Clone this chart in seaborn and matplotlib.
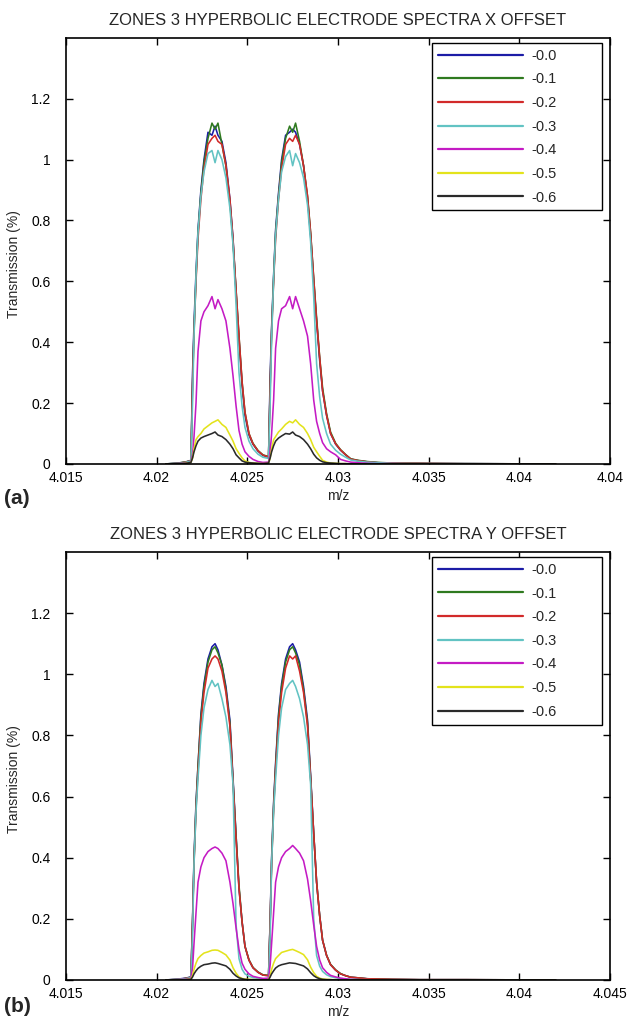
import numpy as np
import pandas as pd
import seaborn as sns
import matplotlib
matplotlib.use("Agg")
import matplotlib.pyplot as plt

# =====================================================
# Data
# =====================================================

# m/z sample points: lead-in, peak 1, peak 2, tail
mz = [4.0205, 4.0212, 4.0216,
      4.02189, 4.02198, 4.02206, 4.02217, 4.02228, 4.02244, 4.02261, 4.02283,
      4.02305, 4.02322, 4.02338, 4.02360, 4.02382, 4.02404, 4.02421, 4.02438,
      4.02454, 4.02471, 4.02487, 4.02509, 4.02531, 4.02559, 4.02586,
      4.02617, 4.02626, 4.02634, 4.02645, 4.02656, 4.02672, 4.02689, 4.02711,
      4.02733, 4.02750, 4.02766, 4.02788, 4.02810, 4.02832, 4.02849, 4.02866,
      4.02882, 4.02899, 4.02915, 4.02937, 4.02959, 4.02987, 4.03014, 4.03042,
      4.0307, 4.0311, 4.0316, 4.0322, 4.0330, 4.0345, 4.0370, 4.0420]

offsets = ["-0.0", "-0.1", "-0.2", "-0.3", "-0.4", "-0.5", "-0.6"]
line_colors = ["#1c1ca6", "#2f7a1f", "#d22a2a", "#62c3c3",
               "#c41bc4", "#e3e31c", "#2a2a2a"]

# ---- panel (a): X offset ----
a_00 = [0.0, 0.003, 0.006,
        0.012, 0.30, 0.46, 0.63, 0.77, 0.90, 1.00, 1.09, 1.08, 1.11, 1.08, 1.06,
        0.99, 0.87, 0.74, 0.56, 0.41, 0.26, 0.16, 0.095, 0.065, 0.042, 0.028,
        0.022, 0.29, 0.45, 0.62, 0.77, 0.89, 1.00, 1.08, 1.09, 1.10, 1.09, 1.05,
        0.98, 0.87, 0.75, 0.60, 0.47, 0.34, 0.24, 0.16, 0.10, 0.065, 0.045, 0.030,
        0.016, 0.011, 0.007, 0.004, 0.003, 0.002, 0.001, 0.0]
a_01 = [0.0, 0.003, 0.007,
        0.010, 0.27, 0.44, 0.61, 0.76, 0.89, 0.99, 1.07, 1.12, 1.10, 1.12, 1.05,
        0.98, 0.86, 0.73, 0.57, 0.42, 0.27, 0.17, 0.10, 0.068, 0.044, 0.030,
        0.024, 0.26, 0.44, 0.61, 0.76, 0.88, 0.99, 1.07, 1.11, 1.09, 1.12, 1.06,
        0.98, 0.88, 0.76, 0.61, 0.48, 0.35, 0.25, 0.165, 0.105, 0.068, 0.047, 0.031,
        0.017, 0.012, 0.008, 0.005, 0.003, 0.002, 0.001, 0.0]
a_02 = [0.0, 0.002, 0.006,
        0.011, 0.26, 0.43, 0.60, 0.74, 0.87, 0.97, 1.05, 1.07, 1.08, 1.06, 1.05,
        0.98, 0.87, 0.74, 0.57, 0.42, 0.27, 0.17, 0.10, 0.066, 0.043, 0.029,
        0.023, 0.25, 0.43, 0.60, 0.74, 0.87, 0.97, 1.05, 1.07, 1.06, 1.08, 1.05,
        0.98, 0.88, 0.76, 0.61, 0.47, 0.35, 0.24, 0.16, 0.10, 0.066, 0.046, 0.030,
        0.016, 0.011, 0.007, 0.004, 0.003, 0.002, 0.001, 0.0]
a_03 = [0.0, 0.002, 0.005,
        0.010, 0.20, 0.42, 0.62, 0.76, 0.88, 0.96, 1.02, 1.03, 0.99, 1.03, 1.00,
        0.94, 0.84, 0.72, 0.52, 0.30, 0.19, 0.12, 0.075, 0.05, 0.032, 0.022,
        0.018, 0.20, 0.41, 0.61, 0.75, 0.87, 0.96, 1.01, 1.03, 0.98, 1.02, 0.99,
        0.94, 0.85, 0.73, 0.55, 0.33, 0.22, 0.15, 0.10, 0.065, 0.045, 0.032, 0.022,
        0.013, 0.009, 0.006, 0.004, 0.002, 0.001, 0.001, 0.0]
a_04 = [0.0, 0.001, 0.003,
        0.005, 0.03, 0.09, 0.20, 0.37, 0.47, 0.50, 0.52, 0.55, 0.51, 0.54, 0.51,
        0.47, 0.38, 0.29, 0.19, 0.11, 0.065, 0.04, 0.025, 0.015, 0.008, 0.005,
        0.006, 0.04, 0.10, 0.21, 0.38, 0.47, 0.51, 0.52, 0.55, 0.51, 0.55, 0.51,
        0.47, 0.42, 0.33, 0.21, 0.14, 0.10, 0.07, 0.05, 0.04, 0.03, 0.015, 0.01,
        0.006, 0.004, 0.002, 0.001, 0.001, 0.0, 0.0, 0.0]
a_05 = [0.0, 0.0, 0.002,
        0.005, 0.02, 0.05, 0.08, 0.09, 0.10, 0.115, 0.125, 0.135, 0.14, 0.145, 0.13,
        0.12, 0.095, 0.075, 0.05, 0.035, 0.02, 0.01, 0.005, 0.003, 0.002, 0.001,
        0.002, 0.02, 0.05, 0.08, 0.09, 0.105, 0.115, 0.13, 0.14, 0.135, 0.145, 0.13,
        0.12, 0.10, 0.08, 0.055, 0.04, 0.025, 0.012, 0.006, 0.003, 0.002, 0.001, 0.001,
        0.0, 0.0, 0.0, 0.0, 0.0, 0.0, 0.0, 0.0]
a_06 = [0.0, 0.001, 0.002,
        0.005, 0.02, 0.04, 0.06, 0.075, 0.085, 0.09, 0.095, 0.10, 0.105, 0.095, 0.09,
        0.08, 0.065, 0.05, 0.03, 0.02, 0.01, 0.006, 0.004, 0.003, 0.002, 0.001,
        0.003, 0.02, 0.04, 0.06, 0.075, 0.085, 0.092, 0.10, 0.098, 0.105, 0.095, 0.09,
        0.08, 0.065, 0.05, 0.032, 0.02, 0.012, 0.007, 0.004, 0.003, 0.002, 0.001, 0.001,
        0.0, 0.0, 0.0, 0.0, 0.0, 0.0, 0.0, 0.0]

# ---- panel (b): Y offset ----
b_00 = [0.0, 0.003, 0.006,
        0.010, 0.20, 0.40, 0.58, 0.70, 0.87, 0.97, 1.05, 1.09, 1.10, 1.08, 1.03,
        0.96, 0.85, 0.66, 0.47, 0.30, 0.19, 0.11, 0.065, 0.04, 0.025, 0.016,
        0.014, 0.20, 0.40, 0.58, 0.71, 0.87, 0.97, 1.05, 1.09, 1.10, 1.08, 1.04,
        0.96, 0.85, 0.67, 0.48, 0.32, 0.21, 0.13, 0.08, 0.05, 0.032, 0.02, 0.014,
        0.009, 0.007, 0.004, 0.003, 0.002, 0.001, 0.001, 0.0]
b_01 = [0.0, 0.002, 0.005,
        0.009, 0.19, 0.39, 0.57, 0.70, 0.86, 0.96, 1.04, 1.08, 1.09, 1.07, 1.03,
        0.95, 0.84, 0.65, 0.47, 0.31, 0.19, 0.11, 0.066, 0.041, 0.026, 0.017,
        0.015, 0.19, 0.39, 0.57, 0.70, 0.86, 0.96, 1.04, 1.08, 1.09, 1.07, 1.03,
        0.95, 0.84, 0.66, 0.48, 0.32, 0.21, 0.13, 0.081, 0.051, 0.033, 0.021, 0.014,
        0.009, 0.007, 0.004, 0.003, 0.002, 0.001, 0.001, 0.0]
b_02 = [0.0, 0.002, 0.005,
        0.009, 0.19, 0.38, 0.56, 0.68, 0.84, 0.94, 1.02, 1.05, 1.06, 1.05, 1.01,
        0.94, 0.83, 0.65, 0.46, 0.30, 0.19, 0.11, 0.065, 0.04, 0.025, 0.016,
        0.014, 0.19, 0.38, 0.56, 0.69, 0.84, 0.94, 1.02, 1.06, 1.05, 1.06, 1.01,
        0.94, 0.83, 0.66, 0.48, 0.32, 0.21, 0.13, 0.08, 0.05, 0.032, 0.02, 0.014,
        0.009, 0.007, 0.004, 0.003, 0.002, 0.001, 0.001, 0.0]
b_03 = [0.0, 0.002, 0.004,
        0.008, 0.15, 0.38, 0.55, 0.66, 0.80, 0.89, 0.95, 0.98, 0.96, 0.97, 0.92,
        0.86, 0.77, 0.64, 0.18, 0.07, 0.035, 0.02, 0.012, 0.008, 0.005, 0.003,
        0.003, 0.15, 0.38, 0.55, 0.66, 0.80, 0.89, 0.95, 0.97, 0.98, 0.96, 0.92,
        0.86, 0.77, 0.64, 0.20, 0.08, 0.045, 0.028, 0.017, 0.011, 0.007, 0.005, 0.003,
        0.002, 0.001, 0.001, 0.0, 0.0, 0.0, 0.0, 0.0]
b_04 = [0.0, 0.001, 0.002,
        0.005, 0.04, 0.12, 0.22, 0.32, 0.37, 0.40, 0.42, 0.43, 0.435, 0.43, 0.415,
        0.39, 0.32, 0.25, 0.17, 0.10, 0.055, 0.035, 0.02, 0.012, 0.008, 0.005,
        0.006, 0.05, 0.12, 0.22, 0.32, 0.37, 0.40, 0.42, 0.43, 0.44, 0.43, 0.415,
        0.39, 0.33, 0.26, 0.18, 0.11, 0.065, 0.04, 0.025, 0.015, 0.01, 0.006, 0.004,
        0.002, 0.001, 0.0, 0.0, 0.0, 0.0, 0.0, 0.0]
b_05 = [0.0, 0.0, 0.001,
        0.003, 0.015, 0.035, 0.055, 0.07, 0.08, 0.088, 0.092, 0.097, 0.098, 0.097, 0.09,
        0.082, 0.065, 0.04, 0.022, 0.01, 0.005, 0.003, 0.002, 0.001, 0.001, 0.0,
        0.001, 0.015, 0.035, 0.055, 0.07, 0.08, 0.09, 0.094, 0.098, 0.10, 0.096, 0.09,
        0.083, 0.066, 0.042, 0.024, 0.012, 0.006, 0.003, 0.002, 0.001, 0.001, 0.0, 0.0,
        0.0, 0.0, 0.0, 0.0, 0.0, 0.0, 0.0, 0.0]
b_06 = [0.0, 0.0, 0.001,
        0.002, 0.01, 0.02, 0.03, 0.038, 0.045, 0.05, 0.052, 0.055, 0.056, 0.054, 0.05,
        0.046, 0.035, 0.022, 0.013, 0.007, 0.004, 0.002, 0.001, 0.001, 0.0, 0.0,
        0.0, 0.01, 0.02, 0.03, 0.039, 0.046, 0.05, 0.053, 0.056, 0.055, 0.054, 0.05,
        0.046, 0.036, 0.024, 0.014, 0.008, 0.004, 0.002, 0.001, 0.001, 0.0, 0.0, 0.0,
        0.0, 0.0, 0.0, 0.0, 0.0, 0.0, 0.0, 0.0]

titles = ["ZONES 3 HYPERBOLIC ELECTRODE SPECTRA X OFFSET",
          "ZONES 3 HYPERBOLIC ELECTRODE SPECTRA Y OFFSET"]
panel_tags = ["(a)", "(b)"]

x_ticks = [4.015, 4.02, 4.025, 4.03, 4.035, 4.04, 4.045]
x_labels_a = ["4.015", "4.02", "4.025", "4.03", "4.035", "4.04", "4.04"]
x_labels_b = ["4.015", "4.02", "4.025", "4.03", "4.035", "4.04", "4.045"]
y_ticks = [0, 0.2, 0.4, 0.6, 0.8, 1.0, 1.2]
y_labels = ["0", "0.2", "0.4", "0.6", "0.8", "1", "1.2"]


def long_table(series):
    frames = []
    for label, vals in zip(offsets, series):
        frames.append(pd.DataFrame({"mz": mz, "T": vals, "offset": label}))
    return pd.concat(frames, ignore_index=True)


# =====================================================
# Figure
# =====================================================

sns.set_style("ticks")
plt.rcParams["font.family"] = ["Liberation Sans", "DejaVu Sans"]

fig = plt.figure(figsize=(6.31, 10.19), dpi=100)
ax_a = fig.add_axes([0.1046, 0.5447, 0.8621, 0.4181])
ax_b = fig.add_axes([0.1046, 0.0383, 0.8621, 0.4200])

panels = [
    (ax_a, [a_00, a_01, a_02, a_03, a_04, a_05, a_06], x_labels_a, 1 - 504 / 1019),
    (ax_b, [b_00, b_01, b_02, b_03, b_04, b_05, b_06], x_labels_b, 1 - 1012 / 1019),
]

for i, (ax, series, xlabels, tag_y) in enumerate(panels):

    df = long_table(series)

    sns.lineplot(
        data=df,
        x="mz",
        y="T",
        hue="offset",
        hue_order=offsets,
        palette=line_colors,
        estimator=None,
        linewidth=1.15,
        ax=ax
    )

    ax.set_xlim(4.015, 4.045)
    ax.set_ylim(0, 1.4)
    ax.set_xticks(x_ticks, labels=xlabels)
    ax.set_yticks(y_ticks, labels=y_labels)

    ax.tick_params(direction="in", top=True, right=True, length=5,
                   width=1, labelsize=10, colors="black")
    ax.tick_params(axis="x", pad=5)
    ax.tick_params(axis="y", pad=11)

    for spine in ax.spines.values():
        spine.set_visible(True)
        spine.set_linewidth(1.2)
        spine.set_color("black")

    ax.set_title(titles[i], fontsize=12, pad=9)
    ax.set_xlabel("m/z", fontsize=10)
    ax.set_ylabel("Transmission (%)", fontsize=10)
    ax.xaxis.set_label_coords(0.5, -0.059)
    ax.yaxis.set_label_coords(-0.082, 0.47)

    old = ax.get_legend()
    handles = old.legend_handles
    labels = [t.get_text() for t in old.get_texts()]
    old.remove()
    for h in handles:
        h.set_linewidth(1.6)

    leg = ax.legend(
        handles, labels,
        loc="upper left",
        bbox_to_anchor=(0.673, 0.59, 0.312, 0.398),
        mode="expand",
        borderaxespad=0,
        fontsize=10.5,
        handlelength=5.8,
        handletextpad=0.6,
        labelspacing=0.66,
        borderpad=0.4,
        fancybox=False,
        framealpha=1,
        edgecolor="black"
    )
    leg.get_frame().set_linewidth(1.0)

    fig.text(0.006, tag_y, panel_tags[i], fontsize=15,
             fontweight="bold", va="baseline")

plt.savefig("out.png", dpi=100)
plt.close()
